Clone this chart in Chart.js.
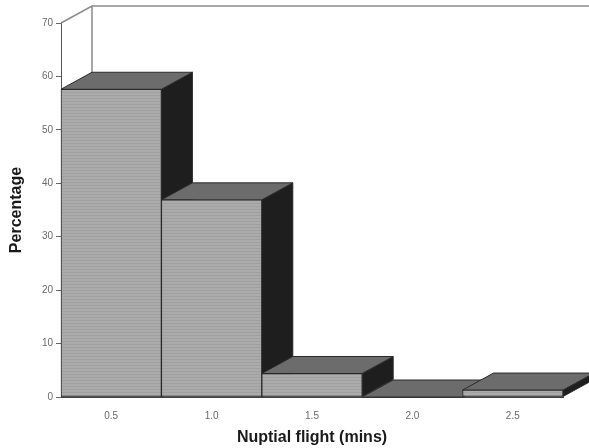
<!DOCTYPE html>
<html><head><meta charset="utf-8">
<script src="https://cdn.jsdelivr.net/npm/chart.js@4"></script>
<style>html,body{margin:0;padding:0;background:#fff}#wrap{width:589px;height:448px}</style>
</head><body><div id="wrap"><canvas id="c" width="589" height="448"></canvas></div>
<script>
const categories = ['0.5', '1.0', '1.5', '2.0', '2.5'];
const percentages = [57.6, 36.9, 4.4, 0, 1.3];
const yTicks = [0, 10, 20, 30, 40, 50, 60, 70];
const yTitle = 'Percentage';
const xTitle = 'Nuptial flight (mins)';

const DX = 31, DY = -17;
const TOP = '#6c6c6c', SIDE = '#1e1e1e', EDGE = '#2a2a2a';

const canvas = document.getElementById('c');
const ctx0 = canvas.getContext('2d');
function stripePattern() {
  const p = document.createElement('canvas'); p.width = 4; p.height = 3;
  const c = p.getContext('2d');
  c.fillStyle = '#ababab'; c.fillRect(0, 0, 4, 3);
  c.fillStyle = '#a0a0a0'; c.fillRect(0, 2, 4, 1);
  return ctx0.createPattern(p, 'repeat');
}
const pattern = stripePattern();

function poly(ctx, pts, fill) {
  ctx.beginPath();
  ctx.moveTo(pts[0][0], pts[0][1]);
  for (let i = 1; i < pts.length; i++) ctx.lineTo(pts[i][0], pts[i][1]);
  ctx.closePath();
  ctx.fillStyle = fill; ctx.fill();
  ctx.strokeStyle = EDGE; ctx.lineWidth = 1; ctx.stroke();
}

const depthPlugin = {
  id: 'depth',
  beforeDatasetsDraw(chart) {
    const { ctx, chartArea: a, scales: { y } } = chart;
    const top = y.getPixelForValue(y.max);
    const base = y.getPixelForValue(0);
    ctx.save();
    ctx.strokeStyle = '#8a8a8a'; ctx.lineWidth = 1.5;
    ctx.beginPath();
    ctx.moveTo(a.left, top); ctx.lineTo(a.left + DX, top + DY); ctx.lineTo(chart.width, top + DY);
    ctx.moveTo(a.left + DX, top + DY); ctx.lineTo(a.left + DX, base + DY);
    ctx.stroke();
    ctx.restore();
  },
  afterDatasetsDraw(chart) {
    const ctx = chart.ctx;
    const meta = chart.getDatasetMeta(0);
    ctx.save();
    meta.data.forEach(bar => {
      const { x, y, base, width } = bar.getProps(['x', 'y', 'base', 'width'], true);
      const l = x - width / 2, r = x + width / 2;
      poly(ctx, [[r, y], [r + DX, y + DY], [r + DX, base + DY], [r, base]], SIDE);
      poly(ctx, [[l, y], [r, y], [r + DX, y + DY], [l + DX, y + DY]], TOP);
      bar.draw(ctx);
    });
    ctx.restore();
  }
};

new Chart(canvas, {
  type: 'bar',
  data: {
    labels: categories,
    datasets: [{
      data: percentages,
      backgroundColor: pattern,
      borderColor: EDGE,
      borderWidth: 1,
      borderSkipped: false,
      categoryPercentage: 1,
      barPercentage: 1
    }]
  },
  options: {
    responsive: false,
    animation: false,
    events: [],
    layout: { padding: { top: 23, right: 26, left: 0, bottom: 0 } },
    plugins: { legend: { display: false }, tooltip: { enabled: false } },
    scales: {
      x: {
        grid: { display: false, drawTicks: false },
        border: { display: true, color: '#444', width: 1 },
        ticks: { color: '#6a6a6a', padding: 13, font: { family: 'Liberation Sans', size: 10 } },
        title: { display: true, text: xTitle, color: '#1a1a1a', padding: { top: 0, bottom: 1 },
                 font: { family: 'Liberation Sans', size: 16, weight: 'bold' } },
        afterFit(s) { s.height = 51; }
      },
      y: {
        min: 0, max: 70,
        afterBuildTicks(s) { s.ticks = yTicks.map(v => ({ value: v })); },
        grid: { display: true, drawOnChartArea: false, drawTicks: true, tickLength: 5, color: '#666' },
        border: { display: true, color: '#555', width: 1 },
        ticks: { color: '#6a6a6a', padding: 3, font: { family: 'Liberation Sans', size: 10 } },
        title: { display: true, text: yTitle, color: '#1a1a1a', padding: { top: 7, bottom: 0 },
                 font: { family: 'Liberation Sans', size: 16, weight: 'bold' } },
        afterFit(s) { s.width = 61; }
      }
    }
  },
  plugins: [depthPlugin]
});
</script>
</body></html>
